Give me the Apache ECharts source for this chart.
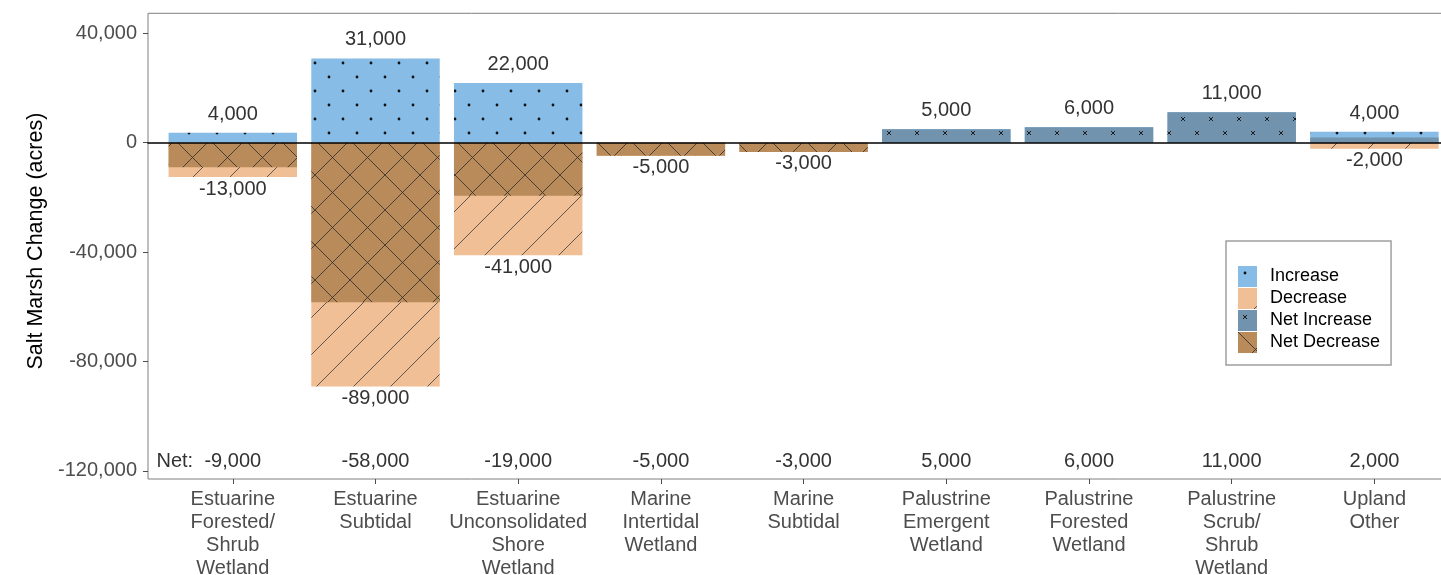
<!DOCTYPE html>
<html><head><meta charset="utf-8">
<script src="https://cdn.jsdelivr.net/npm/echarts@6/dist/echarts.min.js"></script>
<style>html,body{margin:0;padding:0;background:#fff}#c{width:1441px;height:575px}</style>
</head><body><div id="c"></div>
<script>
const categories = [
  'Estuarine\nForested/\nShrub\nWetland',
  'Estuarine\nSubtidal',
  'Estuarine\nUnconsolidated\nShore\nWetland',
  'Marine\nIntertidal\nWetland',
  'Marine\nSubtidal',
  'Palustrine\nEmergent\nWetland',
  'Palustrine\nForested\nWetland',
  'Palustrine\nScrub/\nShrub\nWetland',
  'Upland\nOther'
];
const increase = [3600, 30800, 21800, null, null, 4900, 5600, 11100, 4000];
const decrease = [-12600, -89200, -41200, -4800, -3400, null, null, null, -2200];
const net = [-9000, -58400, -19400, -4800, -3400, 4900, 5600, 11100, 1900];
const yTicks = [-120000, -80000, -40000, 0, 40000];
const seriesNames = ['Increase', 'Decrease', 'Net Increase', 'Net Decrease'];
const NET_LABEL_Y = -116700;

function fmt(v) {
  const r = Math.round(v / 1000) * 1000;
  const s = Math.abs(r).toString().replace(/\B(?=(\d{3})+(?!\d))/g, ',');
  return (r < 0 ? '-' : '') + s;
}
function tile(w, h, bg, draw) {
  const c = document.createElement('canvas');
  c.width = w; c.height = h;
  const g = c.getContext('2d');
  g.fillStyle = bg; g.fillRect(0, 0, w, h);
  draw(g, w, h);
  return { image: c, repeat: 'repeat' };
}
const patInc = tile(28, 28, '#86BCE6', (g) => {
  g.fillStyle = '#111';
  [[7, 7], [21, 21]].forEach(([x, y]) => { g.beginPath(); g.arc(x, y, 1.4, 0, Math.PI * 2); g.fill(); });
});
const patNetInc = tile(28, 28, '#7193AD', (g) => {
  g.strokeStyle = '#1a1a1a'; g.lineWidth = 1;
  [[7, 7], [21, 21]].forEach(([x, y]) => {
    g.beginPath(); g.moveTo(x - 2, y - 2); g.lineTo(x + 2, y + 2);
    g.moveTo(x - 2, y + 2); g.lineTo(x + 2, y - 2); g.stroke();
  });
});
const patDec = tile(37, 37, '#F0BF96', (g, w, h) => {
  g.strokeStyle = '#3a3a3a'; g.lineWidth = 0.8;
  g.beginPath(); g.moveTo(-1, h + 1); g.lineTo(w + 1, -1); g.stroke();
});
const patNetDec = tile(35, 35, '#B98B5A', (g, w, h) => {
  g.strokeStyle = '#2b2b2b'; g.lineWidth = 0.8;
  g.beginPath(); g.moveTo(-1, h + 1); g.lineTo(w + 1, -1);
  g.moveTo(-1, -1); g.lineTo(w + 1, h + 1); g.stroke();
});

const FONT = 'Liberation Sans';
const chart = echarts.init(document.getElementById('c'), null, { renderer: 'canvas' });
const option = {
  animation: false,
  backgroundColor: '#fff',
  textStyle: { fontFamily: FONT },
  grid: [
    { left: 161.45, top: 13.3, width: 1284.3, bottom: 96, outerBoundsMode: 'none' },
    { left: 148, top: 13.3, width: 1312, bottom: 96, show: true, borderColor: '#7f7f7f', borderWidth: 1, backgroundColor: 'transparent', outerBoundsMode: 'none' }
  ],
  legend: {
    data: seriesNames, orient: 'vertical', left: 1226, top: 241,
    itemWidth: 19, itemHeight: 21, itemGap: 1, icon: 'rect',
    padding: [25, 11, 12, 12], borderColor: '#a0a0a0', borderWidth: 1.5,
    textStyle: { fontSize: 18, color: '#000', fontFamily: FONT, padding: [0, 0, 0, 8] },
    selectedMode: false
  },
  xAxis: [
    { type: 'category', gridIndex: 0, data: categories,
      axisLine: { show: false, onZero: false },
      axisTick: { show: true, alignWithLabel: true, length: 5, lineStyle: { color: '#4d4d4d' } },
      axisLabel: { interval: 0, margin: 8.5, fontSize: 20, lineHeight: 23, color: '#4d4d4d', fontFamily: FONT },
      splitLine: { show: false } },
    { type: 'value', gridIndex: 1, min: 0, max: 1, z: 10,
      axisLine: { show: true, onZero: true, lineStyle: { color: '#000', width: 1.6 } },
      axisTick: { show: false }, axisLabel: { show: false }, splitLine: { show: false } }
  ],
  yAxis: [
    { type: 'value', gridIndex: 0, min: -123000, max: 47300, show: false, splitLine: { show: false } },
    { type: 'value', gridIndex: 1, min: -123000, max: 47300,
      axisLine: { show: false },
      axisTick: { show: true, length: 5, customValues: yTicks, lineStyle: { color: '#4d4d4d' } },
      axisLabel: { customValues: yTicks, formatter: (v) => fmt(v), fontSize: 20, color: '#4d4d4d', margin: 11, fontFamily: FONT },
      splitLine: { show: false },
      name: 'Salt Marsh Change (acres)', nameLocation: 'middle', nameGap: 96,
      nameTextStyle: { fontSize: 21.5, color: '#000', fontFamily: FONT, padding: [0, 0, 0, 10] } }
  ],
  series: [
    { name: 'Increase', type: 'bar', xAxisIndex: 0, yAxisIndex: 0, data: increase,
      barWidth: '90%', barGap: '-100%', itemStyle: { color: patInc },
      label: { show: true, position: 'top', distance: 8.5, formatter: (p) => fmt(p.value), fontSize: 20, color: '#333', fontFamily: FONT } },
    { name: 'Decrease', type: 'bar', xAxisIndex: 0, yAxisIndex: 0, data: decrease,
      barWidth: '90%', barGap: '-100%', itemStyle: { color: patDec },
      label: { show: true, position: 'bottom', distance: 2, formatter: (p) => fmt(p.value), fontSize: 20, color: '#333', fontFamily: FONT } },
    { name: 'Net Increase', type: 'bar', xAxisIndex: 0, yAxisIndex: 0, data: net.map(v => v > 0 ? v : null),
      barWidth: '90%', barGap: '-100%', itemStyle: { color: patNetInc } },
    { name: 'Net Decrease', type: 'bar', xAxisIndex: 0, yAxisIndex: 0, data: net.map(v => v < 0 ? v : null),
      barWidth: '90%', barGap: '-100%', itemStyle: { color: patNetDec } },
    { name: 'netLabels', type: 'scatter', xAxisIndex: 0, yAxisIndex: 0, silent: true,
      data: net.map(() => NET_LABEL_Y), symbolSize: 0, itemStyle: { opacity: 1 },
      label: { show: true, position: 'inside', formatter: (p) => fmt(net[p.dataIndex]), fontSize: 20, color: '#333', opacity: 1, fontFamily: FONT } },
    { name: 'netPrefix', type: 'scatter', xAxisIndex: 0, yAxisIndex: 0, silent: true,
      data: [[0, NET_LABEL_Y]], symbolSize: 0, itemStyle: { opacity: 1 },
      label: { show: true, position: 'inside', offset: [-58, 0], formatter: 'Net:', fontSize: 20, color: '#333', opacity: 1, fontFamily: FONT } }
  ]
};
chart.setOption(option);
</script>
</body></html>
